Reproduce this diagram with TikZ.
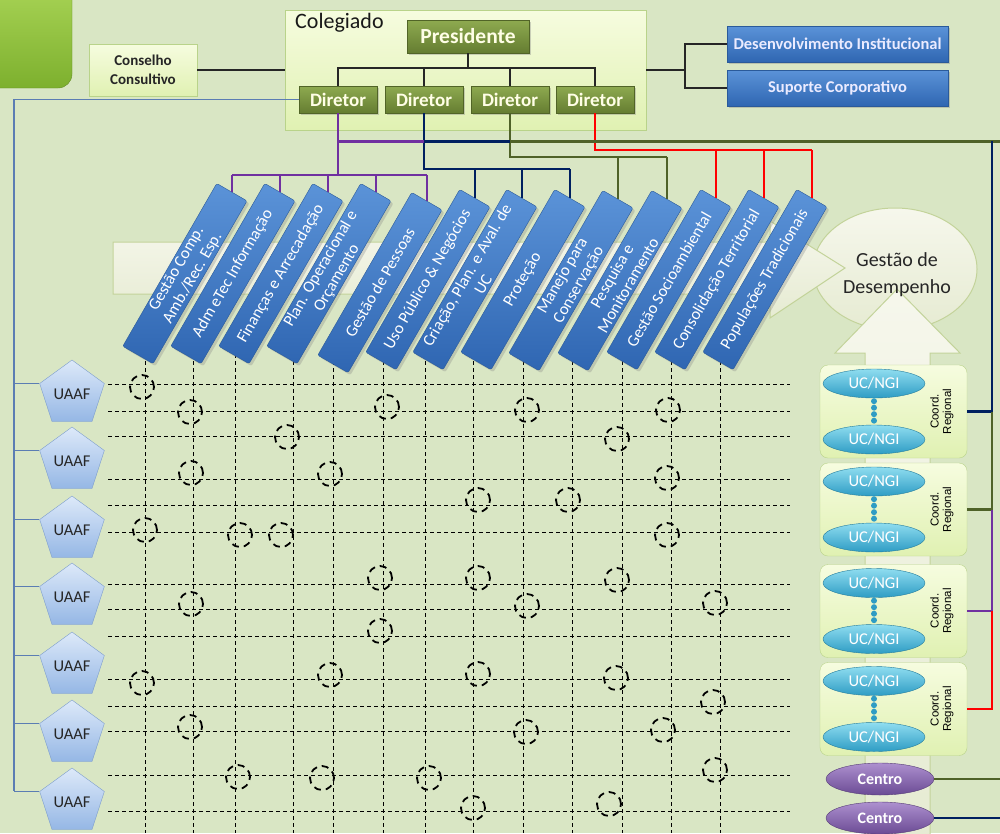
\documentclass[tikz,border=0pt]{standalone}
\usepackage{fontspec}
\setmainfont{Carlito}
\newfontfamily\arialfont{Liberation Sans}
\usetikzlibrary{shapes.geometric,shadows}

\definecolor{bggreen}{HTML}{D9E6C4}
\definecolor{cornerA}{HTML}{AAD557}
\definecolor{cornerB}{HTML}{7DB02E}
\definecolor{oliveA}{HTML}{8EAA50}
\definecolor{oliveB}{HTML}{657D31}
\definecolor{oliveline}{HTML}{4F6228}
\definecolor{navyline}{HTML}{002060}
\definecolor{purpleline}{HTML}{7030A0}
\definecolor{barA}{HTML}{5B93D8}
\definecolor{barB}{HTML}{2F66B2}
\definecolor{barline}{HTML}{2A5A9A}
\definecolor{paleA}{HTML}{F6FCDF}
\definecolor{paleB}{HTML}{E0F1B2}
\definecolor{paleline}{HTML}{B9D38A}
\definecolor{creamA}{HTML}{F6F7EC}
\definecolor{creamB}{HTML}{E6EBD2}
\definecolor{creamline}{HTML}{C3D39A}
\definecolor{ucA}{HTML}{8FDDF0}
\definecolor{ucB}{HTML}{2E9CC4}
\definecolor{centroA}{HTML}{AD90CF}
\definecolor{centroB}{HTML}{6B4B94}
\definecolor{pentA}{HTML}{DDE9F9}
\definecolor{pentB}{HTML}{95B7E5}
\definecolor{pentline}{HTML}{7E9ECC}
\definecolor{spinecol}{HTML}{5B7DB3}

\begin{document}
\begin{tikzpicture}[x=1pt, y=-1pt,
  every node/.style={inner sep=2pt},
  palebox/.style={draw=paleline, top color=paleA, bottom color=paleB},
  olivebox/.style={draw=oliveB!80!black, top color=oliveA, bottom color=oliveB,
    text=white!90!yellow, font=\bfseries\fontsize{19}{22}\selectfont,
    drop shadow={opacity=0.35}},
  bluebox/.style={draw=barline, top color=barA, bottom color=barB,
    text=white!92!blue, font=\bfseries\fontsize{16.5}{19}\selectfont,
    minimum width=221, minimum height=36, drop shadow={opacity=0.35}},
  bar/.style={rotate=60, anchor=east, draw=barline, top color=barA, bottom color=barB,
    minimum width=188, minimum height=35, inner sep=0.5pt, align=center,
    text=white, font=\fontsize{16.5}{18.5}\selectfont, rounded corners=2pt,
    drop shadow={opacity=0.3}},
  uaaf/.style={regular polygon, regular polygon sides=5, minimum size=68, inner sep=0pt,
    draw=pentline, top color=pentA, bottom color=pentB, text=black!85,
    font=\fontsize{16.5}{19}\selectfont},
  coordbox/.style={palebox, rounded corners=8pt, minimum width=147, minimum height=93},
  ucngi/.style={ellipse, draw=ucB!80!black, top color=ucA, bottom color=ucB, inner sep=0pt,
    minimum width=102, minimum height=29, text=white, font=\fontsize{16.5}{18}\selectfont},
  centro/.style={ellipse, draw=centroB!80!black, top color=centroA, bottom color=centroB,
    inner sep=0pt, minimum width=108, minimum height=32, text=white,
    font=\bfseries\fontsize{16}{18}\selectfont},
  ucdots/.style={draw=ucB, line width=6pt, dash pattern=on 0pt off 6.5pt, line cap=round,
    shorten >=3pt, shorten <=3pt},
  treeline/.style={draw=black!85, line width=1.8pt},
  cpurple/.style={draw=purpleline, line width=2.5pt},
  cnavy/.style={draw=navyline, line width=2.5pt},
  colive/.style={draw=oliveline, line width=2.5pt},
  cred/.style={draw=red, line width=2.5pt},
  spineline/.style={draw=spinecol, line width=1.2pt},
  griddash/.style={draw=black, line width=1pt, dash pattern=on 4pt off 3pt},
  dcircle/.style={draw=black, line width=1.8pt, dash pattern=on 7pt off 5pt},
  creamshape/.style={draw=creamline, line width=1pt, top color=creamA, bottom color=creamB}
]

  \useasboundingbox (0,0) rectangle (1000,833);
  \clip (0,0) rectangle (1000,833);
  \fill[bggreen] (0,0) rectangle (1000,833);

  \draw[draw=cornerB!80!black, top color=cornerA, bottom color=cornerB, rounded corners=14pt]
    (-20,-20) rectangle (72,88);

  \coordinate (edge) at (1000,0);
  \coordinate (rt) at (992,141);
  \coordinate (pbus) at (0,175);
  \coordinate (nbus) at (0,169);
  \coordinate (obus) at (0,157);
  \coordinate (rbus) at (0,150);
  \coordinate (tb) at (468,68);
  \coordinate (split) at (685,70);
  \coordinate (sp) at (14,0);

  \node[ellipse, creamshape, minimum width=164, minimum height=122] (gd) at (895,269) {};

  \draw[creamshape] (113,242) -- (770,242) -- (770,221) -- (845,268) -- (770,318)
    -- (770,294) -- (113,294) -- cycle;
  \draw[creamshape] (865,845) -- (865,353) -- (835,353) -- (897,289) -- (960,353)
    -- (930,353) -- (930,845) -- cycle;

  \foreach \x in {145,193,235,293,333,383,425,473,523,572,622,671,720} {
    \draw[griddash] (\x,340) -- (\x,833);
  }
  \foreach \y in {384,411,436,479,505,532,584,609,636,679,706,731,775,811} {
    \draw[griddash] (108,\y) -- (790,\y);
  }

  \foreach \n/\x/\y/\t in {
    1/232/192/{Gestão Comp.\\Amb./Rec. Esp.},
    2/280/192/{Adm eTec Informação},
    3/328/192/{Finanças e Arrecadação},
    4/376/192/{Plan. Operacional e\\Orçamento},
    5/427/201/{Gestão de Pessoas},
    6/475/198/{Uso Público \& Negócios},
    7/522/198/{Criação, Plan. e Aval. de\\UC},
    8/570/198/{Proteção},
    9/618/199/{Manejo para\\Conservação},
    10/667/199/{Pesquisa e\\Monitoramento},
    11/716/198/{Gestão Socioambiental},
    12/764/198/{Consolidação Territorial},
    13/812/198/{Populações Tradicionais}} {
    \node[bar] (bar\n) at (\x,\y) {\t};
  }

  \node[palebox, minimum width=361, minimum height=120] (coleg) at (465.5,70) {};
  \node[anchor=north west, inner sep=0pt, text=black!90, font=\fontsize{22}{25}\selectfont]
    (colegt) at (295,13) {Colegiado};
  \node[olivebox, minimum width=122, minimum height=33, font=\bfseries\fontsize{21.5}{24}\selectfont]
    (pres) at (468,36.5) {Presidente};
  \foreach \i/\x in {1/338,2/424,3/510,4/595} {
    \node[olivebox, minimum width=78, minimum height=27] (d\i) at (\x,99.5) {Diretor};
  }

  \draw[treeline] (pres.south) -- (tb);
  \draw[treeline] (d1.north) |- (tb) -| (d4.north);
  \draw[treeline] (d2.north) -- (d2.north |- tb);
  \draw[treeline] (d3.north) -- (d3.north |- tb);

  \node[palebox, align=center, minimum width=108, minimum height=52, text=black!85,
    font=\bfseries\fontsize{15}{19}\selectfont] (cons) at (143,70) {Conselho\\Consultivo};
  \draw[treeline, line width=1.4pt] (cons.east) -- (cons.east -| coleg.west);

  \node[bluebox] (desi) at (837.5,44) {Desenvolvimento Institucional};
  \node[bluebox] (supc) at (837.5,88) {Suporte Corporativo};
  \draw[treeline, line width=1.6pt] (coleg.east) -- (split);
  \draw[treeline, line width=1.6pt] (desi.west) -| (split) |- (supc.west);

  \draw[cred] (d4.south) -- (d4.south |- rbus) -- (bar13.east |- rbus);
  \foreach \n in {11,12,13} {
    \draw[cred] (bar\n.east) -- (bar\n.east |- rbus);
  }
  \draw[colive] (d3.south) -- (d3.south |- obus) -- (bar10.east |- obus);
  \foreach \n in {9,10} {
    \draw[colive] (bar\n.east) -- (bar\n.east |- obus);
  }
  \draw[cnavy] (d2.south) -- (d2.south |- nbus) -- (bar8.east |- nbus);
  \foreach \n in {6,7,8} {
    \draw[cnavy] (bar\n.east) -- (bar\n.east |- nbus);
  }
  \draw[cpurple] (d1.south) -- (d1.south |- pbus);
  \draw[cpurple] (bar1.east |- pbus) -- (bar5.east |- pbus);
  \foreach \n in {1,...,5} {
    \draw[cpurple] (bar\n.east) -- (bar\n.east |- pbus);
  }

  \draw[cpurple, line width=3pt] (d1.south |- rt) -- (d2.south |- rt);
  \draw[cnavy, line width=3pt] (d2.south |- rt) -- (d3.south |- rt);
  \draw[colive, line width=3pt] (d3.south |- rt) -- (rt -| edge);

  \foreach \i/\y in {1/394,2/461,3/530,4/597,5/666,6/734,7/802} {
    \node[uaaf] (u\i) at (72,\y) {UAAF};
  }
  \draw[spineline] (d1.west) -| (u7.corner 2 -| sp);
  \foreach \i in {1,...,7} {
    \draw[spineline] (u\i.corner 2) -- (u\i.corner 2 -| sp);
  }

  \foreach \i/\y in {1/411.5,2/509.5,3/611,4/709} {
    \node[coordbox] (cr\i) at (893.5,\y) {};
    \node[ucngi] (uca\i) at (874,\y-28) {UC/NGI};
    \node[ucngi] (ucb\i) at (874,\y+28) {UC/NGI};
    \draw[ucdots] (uca\i.south) -- (ucb\i.north);
    \node[rotate=90, align=center, inner sep=0pt, text=black,
      font=\arialfont\fontsize{11.5}{12.5}\selectfont] (crt\i) at (942,\y) {Coord.\\Regional};
  }

  \draw[cnavy] (cr1.east) -| (rt);
  \draw[colive] (cr2.east) -| (cr1.east -| rt);
  \draw[cpurple] (cr3.east) -| (cr2.east -| rt);
  \draw[cred] (cr4.east) -| (cr3.east -| rt);

  \node[centro] (cen1) at (880,779) {Centro};
  \node[centro] (cen2) at (880,818) {Centro};
  \draw[colive] (cen1.east) -- (cen1.east -| edge);
  \draw[cnavy] (cen2.east) -- (cen2.east -| edge);

  \foreach \cx/\cy in {142/387, 190/412, 387/407, 527/410, 668/410, 287/437, 617/439,
    191/473, 330/474, 667/478, 478/500, 568/500, 145/530, 240/535, 281/535, 667/535,
    380/578, 478/578, 617/580, 191/604, 527/606, 715/603, 380/631, 142/683, 330/675,
    478/674, 616/678, 713/702, 190/727, 526/732, 663/730, 238/777, 322/778, 429/778,
    715/770, 473/808, 609/804} {
    \draw[dcircle] (\cx,\cy) circle[radius=12pt];
  }

  \node[align=center, text=black!85, font=\fontsize{20}{27}\selectfont] (gdt) at (897,275)
    {Gestão de\\Desempenho};

\end{tikzpicture}
\end{document}
